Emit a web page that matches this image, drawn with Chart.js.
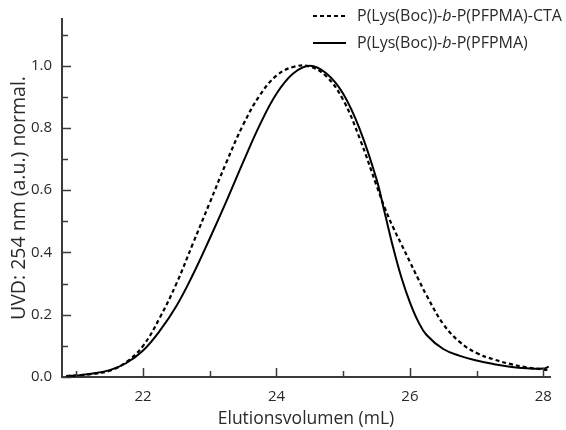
<!DOCTYPE html>
<html>
<head>
<meta charset="utf-8">
<script src="https://cdn.jsdelivr.net/npm/chart.js@4/dist/chart.umd.min.js"></script>
<style>
  html, body { margin: 0; padding: 0; background: #ffffff; }
  #wrap { width: 566px; height: 430px; position: relative; }
</style>
</head>
<body>
<div id="wrap"><canvas id="c" width="566" height="430"></canvas></div>
<script>
// Elution volume (mL) sample positions
const elutionVolume = [20.85, 21.0, 21.25, 21.5, 21.75, 22.0, 22.25, 22.5, 22.75, 23.0, 23.25, 23.5, 23.75, 24.0, 24.25, 24.5, 24.75, 25.0, 25.25, 25.5, 25.625, 25.75, 25.875, 26.0, 26.125, 26.25, 26.5, 26.75, 27.0, 27.25, 27.5, 27.75, 28.0, 28.08];
// P(Lys(Boc))-b-P(PFPMA)-CTA (dashed)
const seriesCTA = [0.003, 0.005, 0.010, 0.020, 0.048, 0.100, 0.190, 0.300, 0.430, 0.560, 0.690, 0.810, 0.905, 0.968, 0.996, 0.997, 0.965, 0.890, 0.765, 0.615, 0.542, 0.480, 0.425, 0.370, 0.315, 0.262, 0.170, 0.112, 0.077, 0.057, 0.042, 0.031, 0.024, 0.022];
// P(Lys(Boc))-b-P(PFPMA) (solid)
const seriesPolymer = [0.003, 0.005, 0.011, 0.022, 0.045, 0.085, 0.148, 0.228, 0.330, 0.445, 0.565, 0.690, 0.810, 0.910, 0.975, 1.000, 0.975, 0.910, 0.795, 0.635, 0.525, 0.415, 0.318, 0.240, 0.178, 0.135, 0.090, 0.068, 0.053, 0.042, 0.033, 0.028, 0.027, 0.033];
const seriesNames = ["P(Lys(Boc))-b-P(PFPMA)-CTA", "P(Lys(Boc))-b-P(PFPMA)"];
const xTickLabels = [22, 24, 26, 28];
const yTickLabels = [0.0, 0.2, 0.4, 0.6, 0.8, 1.0];
const xMinorTicks = [21, 23, 25, 27];
const yMinorTicks = [0.1, 0.3, 0.5, 0.7, 0.9, 1.1];

const FONT = "'Open Sans', Lato, sans-serif";
const AXIS_COLOR = '#3a3a3a';
const TEXT_COLOR = '#2a2a2a';

const tickPlugin = {
  id: 'innerTicks',
  afterDraw(chart) {
    const ctx = chart.ctx;
    const xs = chart.scales.x, ys = chart.scales.y;
    const area = chart.chartArea;
    ctx.save();
    ctx.strokeStyle = AXIS_COLOR;
    ctx.lineWidth = 1.5;
    const drawX = (v, len) => {
      const px = Math.round(xs.getPixelForValue(v)) + 0.5;
      ctx.beginPath(); ctx.moveTo(px, area.bottom); ctx.lineTo(px, area.bottom - len); ctx.stroke();
    };
    const drawY = (v, len) => {
      const py = Math.round(ys.getPixelForValue(v)) + 0.5;
      ctx.beginPath(); ctx.moveTo(area.left, py); ctx.lineTo(area.left + len, py); ctx.stroke();
    };
    xTickLabels.forEach(v => drawX(v, 9));
    xMinorTicks.forEach(v => drawX(v, 6));
    yTickLabels.forEach(v => drawY(v, 9));
    yMinorTicks.forEach(v => drawY(v, 6));
    ctx.restore();
  }
};

const legendPlugin = {
  id: 'customLegend',
  afterDraw(chart) {
    const ctx = chart.ctx;
    ctx.save();
    const rows = [
      { y: 16, dash: [4, 3], width: 2.2 },
      { y: 43, dash: [], width: 2 }
    ];
    chart.data.datasets.forEach((ds, i) => {
      const r = rows[i];
      ctx.strokeStyle = '#000';
      ctx.lineWidth = r.width;
      ctx.setLineDash(r.dash);
      ctx.beginPath(); ctx.moveTo(313, r.y); ctx.lineTo(346, r.y); ctx.stroke();
      ctx.setLineDash([]);
      const parts = ds.label.split('-b-');
      let x = 357;
      ctx.fillStyle = TEXT_COLOR;
      ctx.textBaseline = 'middle';
      const normal = "16px " + FONT;
      const italic = "italic 16px " + FONT;
      const segs = [[parts[0] + '-', normal], ['b', italic], ['-' + parts[1], normal]];
      segs.forEach(([t, f]) => {
        ctx.font = f;
        ctx.fillText(t, x, r.y);
        x += ctx.measureText(t).width;
      });
    });
    ctx.restore();
  }
};

const toPoints = (xs, ys) => xs.map((x, i) => ({ x: x, y: ys[i] }));

new Chart(document.getElementById('c'), {
  type: 'line',
  data: {
    datasets: [
      {
        label: seriesNames[0],
        data: toPoints(elutionVolume, seriesCTA),
        borderColor: '#000',
        borderWidth: 2.2,
        borderDash: [4, 3],
        pointRadius: 0,
        fill: false,
        tension: 0.4
      },
      {
        label: seriesNames[1],
        data: toPoints(elutionVolume, seriesPolymer),
        borderColor: '#000',
        borderWidth: 2,
        pointRadius: 0,
        fill: false,
        tension: 0.4
      }
    ]
  },
  options: {
    responsive: false,
    animation: false,
    layout: { padding: { top: 15, right: 16, left: 0, bottom: 0 } },
    plugins: { legend: { display: false }, tooltip: { enabled: false } },
    scales: {
      x: {
        type: 'linear',
        min: 20.785,
        max: 28.1,
        afterBuildTicks: s => { s.ticks = xTickLabels.map(v => ({ value: v })); },
        afterFit: s => { s.height = 53; },
        grid: { display: false, drawTicks: false, tickLength: 0 },
        border: { display: true, color: AXIS_COLOR, width: 2 },
        ticks: { color: TEXT_COLOR, font: { family: FONT, size: 15 }, padding: 11, maxRotation: 0 },
        title: { display: true, text: 'Elutionsvolumen (mL)', color: TEXT_COLOR, font: { family: FONT, size: 17.5 }, padding: { top: 10, bottom: 0 } }
      },
      y: {
        type: 'linear',
        min: 0,
        max: 1.15,
        afterBuildTicks: s => { s.ticks = yTickLabels.map(v => ({ value: v })); },
        afterFit: s => { s.width = 62; },
        grid: { display: false, drawTicks: false, tickLength: 0 },
        border: { display: true, color: AXIS_COLOR, width: 2 },
        ticks: { color: TEXT_COLOR, font: { family: FONT, size: 15 }, padding: 10, callback: v => Number(v).toFixed(1) },
        title: { display: true, text: 'UVD: 254 nm (a.u.) normal.', color: TEXT_COLOR, font: { family: FONT, size: 19.5 }, padding: { top: 8, bottom: 0 } }
      }
    }
  },
  plugins: [tickPlugin, legendPlugin]
});
</script>
</body>
</html>
